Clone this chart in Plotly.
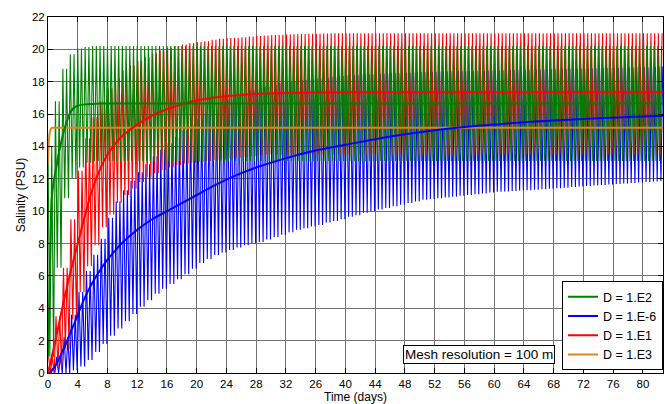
import plotly.graph_objects as go

# ---------------- data ----------------
# Per-day tidal envelope values (day 0 .. 83): peak and trough salinity of the tidal cycles of that day
GREEN_UPPER = [14.0, 16.8, 18.8, 19.7, 20.05, 20.15, 20.2, 20.2, 20.2, 20.2,
               20.2, 20.2, 20.2, 20.2, 20.2, 20.2, 20.2, 20.2, 20.2, 20.2,
               20.2, 20.2, 20.2, 20.2, 20.2, 20.2, 20.2, 20.2, 20.2, 20.2,
               20.2, 20.2, 20.2, 20.2, 20.2, 20.2, 20.2, 20.2, 20.2, 20.2,
               20.2, 20.2, 20.2, 20.2, 20.2, 20.2, 20.2, 20.2, 20.2, 20.2,
               20.2, 20.2, 20.2, 20.2, 20.2, 20.2, 20.2, 20.2, 20.2, 20.2,
               20.2, 20.2, 20.2, 20.2, 20.2, 20.2, 20.2, 20.2, 20.2, 20.2,
               20.2, 20.2, 20.2, 20.2, 20.2, 20.2, 20.2, 20.2, 20.2, 20.2,
               20.2, 20.2, 20.2, 20.2]
GREEN_LOWER = [1.0, 6.5, 10.8, 12.0, 12.7, 13.0, 13.1, 13.1, 13.1, 13.1,
               13.1, 13.1, 13.1, 13.1, 13.1, 13.1, 13.1, 13.1, 13.1, 13.1,
               13.1, 13.1, 13.1, 13.1, 13.1, 13.1, 13.1, 13.1, 13.1, 13.1,
               13.1, 13.1, 13.1, 13.1, 13.1, 13.1, 13.1, 13.1, 13.1, 13.1,
               13.1, 13.1, 13.1, 13.1, 13.1, 13.1, 13.1, 13.1, 13.1, 13.1,
               13.1, 13.1, 13.1, 13.1, 13.1, 13.1, 13.1, 13.1, 13.1, 13.1,
               13.1, 13.1, 13.1, 13.1, 13.1, 13.1, 13.1, 13.1, 13.1, 13.1,
               13.1, 13.1, 13.1, 13.1, 13.1, 13.1, 13.1, 13.1, 13.1, 13.1,
               13.1, 13.1, 13.1, 13.1]
RED_UPPER = [1.0, 3.5, 6.5, 9.5, 12.5, 14.5, 15.8, 16.8, 17.6, 18.2,
             18.7, 19.0, 19.3, 19.55, 19.75, 19.95, 20.1, 20.2, 20.3, 20.4,
             20.45, 20.5, 20.6, 20.65, 20.7, 20.72, 20.75, 20.8, 20.82, 20.85,
             20.88, 20.9, 20.92, 20.94, 20.95, 20.96, 20.97, 20.98, 20.99, 21.0,
             21.0, 21.0, 21.0, 21.0, 21.0, 21.0, 21.0, 21.0, 21.0, 21.0,
             21.0, 21.0, 21.0, 21.0, 21.0, 21.0, 21.0, 21.0, 21.0, 21.0,
             21.0, 21.0, 21.0, 21.0, 21.0, 21.0, 21.0, 21.0, 21.0, 21.0,
             21.0, 21.0, 21.0, 21.0, 21.0, 21.0, 21.0, 21.0, 21.0, 21.0,
             21.0, 21.0, 21.0, 21.0]
RED_LOWER = [0.0, 0.3, 1.5, 3.3, 5.0, 6.6, 7.9, 9.0, 9.8, 10.5,
             11.0, 11.4, 11.8, 12.1, 12.35, 12.55, 12.7, 12.85, 12.95, 13.0,
             13.05, 13.1, 13.15, 13.2, 13.25, 13.3, 13.35, 13.4, 13.45, 13.5,
             13.5, 13.5, 13.5, 13.5, 13.5, 13.5, 13.5, 13.5, 13.5, 13.5,
             13.5, 13.5, 13.5, 13.5, 13.5, 13.5, 13.5, 13.5, 13.5, 13.5,
             13.5, 13.5, 13.5, 13.5, 13.5, 13.5, 13.5, 13.5, 13.5, 13.5,
             13.5, 13.5, 13.5, 13.5, 13.5, 13.5, 13.5, 13.5, 13.5, 13.5,
             13.5, 13.5, 13.5, 13.5, 13.5, 13.5, 13.5, 13.5, 13.5, 13.5,
             13.5, 13.5, 13.5, 13.5]
BLUE_UPPER = [0.3, 1.0, 2.2, 3.6, 5.0, 6.3, 7.3, 8.3, 9.6, 10.6,
              11.3, 11.9, 12.4, 12.9, 13.4, 13.8, 14.2, 14.6, 15.0, 15.35,
              15.7, 16.0, 16.3, 16.6, 16.9, 17.1, 17.3, 17.45, 17.6, 17.7,
              17.8, 17.9, 18.0, 18.05, 18.1, 18.15, 18.2, 18.25, 18.3, 18.35,
              18.4, 18.42, 18.44, 18.46, 18.48, 18.5, 18.52, 18.54, 18.56, 18.58,
              18.6, 18.61, 18.62, 18.63, 18.64, 18.65, 18.66, 18.67, 18.68, 18.69,
              18.7, 18.71, 18.72, 18.73, 18.74, 18.75, 18.76, 18.77, 18.78, 18.79,
              18.8, 18.81, 18.82, 18.83, 18.84, 18.85, 18.86, 18.87, 18.88, 18.89,
              18.9, 18.92, 18.94, 18.96]
BLUE_LOWER = [0.0, 0.0, 0.0, 0.15, 0.4, 0.8, 1.3, 1.8, 2.3, 2.75,
              3.2, 3.65, 4.1, 4.5, 4.9, 5.2, 5.5, 5.8, 6.1, 6.45,
              6.8, 7.05, 7.3, 7.45, 7.6, 7.75, 7.9, 8.0, 8.1, 8.25,
              8.4, 8.55, 8.7, 8.85, 8.95, 9.05, 9.15, 9.3, 9.4, 9.5,
              9.65, 9.75, 9.9, 10.0, 10.1, 10.2, 10.3, 10.4, 10.5, 10.6,
              10.7, 10.75, 10.8, 10.85, 10.9, 10.95, 11.0, 11.05, 11.1, 11.15,
              11.2, 11.22, 11.25, 11.28, 11.3, 11.33, 11.36, 11.39, 11.42, 11.45,
              11.5, 11.53, 11.56, 11.59, 11.62, 11.65, 11.68, 11.71, 11.74, 11.77,
              11.8, 11.83, 11.86, 11.9]

# Tidally averaged (smooth) curves
MEAN_DAYS = [0, 0.25, 0.5, 0.75, 1, 1.5, 2, 2.5, 3, 3.5, 4, 5, 6, 7, 8, 9, 10, 12, 14, 16,
             18, 20, 22, 24, 26, 28, 30, 33, 36, 40, 44, 48, 52, 56, 60, 64, 68, 72, 76, 80, 83]
GREEN_MEAN = [1.0, 6.5, 10.7, 11.8, 12.4, 13.7, 14.7, 15.5, 16.1, 16.4, 16.52, 16.6, 16.63, 16.65,
              16.65, 16.65, 16.65, 16.65, 16.65, 16.65, 16.65, 16.65, 16.65, 16.65, 16.65, 16.65,
              16.65, 16.65, 16.65, 16.65, 16.65, 16.65, 16.65, 16.65, 16.65, 16.65, 16.65, 16.65,
              16.65, 16.65, 16.65]
BLUE_MEAN = [0.0, 0.05, 0.15, 0.3, 0.45, 0.9, 1.4, 1.9, 2.5, 3.0, 3.6, 4.7, 5.6, 6.35, 7.0, 7.55,
             8.05, 8.85, 9.5, 10.0, 10.5, 11.0, 11.5, 11.95, 12.35, 12.7, 13.0, 13.4, 13.75, 14.1,
             14.45, 14.75, 15.0, 15.2, 15.35, 15.5, 15.6, 15.7, 15.78, 15.85, 15.9]
RED_MEAN = [0.0, 0.5, 1.0, 1.5, 2.0, 3.1, 4.2, 5.2, 6.2, 7.1, 8.0, 9.8, 11.4, 12.6, 13.5, 14.15,
            14.65, 15.35, 15.9, 16.3, 16.6, 16.85, 17.0, 17.1, 17.18, 17.25, 17.28, 17.31, 17.33,
            17.35, 17.35, 17.35, 17.35, 17.35, 17.35, 17.35, 17.35, 17.35, 17.35, 17.35, 17.35]
ORANGE_MEAN = [13.0, 14.9, 15.15, 15.15, 15.15, 15.15, 15.15, 15.15, 15.15, 15.15, 15.15, 15.15,
               15.15, 15.15, 15.15, 15.15, 15.15, 15.15, 15.15, 15.15, 15.15, 15.15, 15.15, 15.15,
               15.15, 15.15, 15.15, 15.15, 15.15, 15.15, 15.15, 15.15, 15.15, 15.15, 15.15, 15.15,
               15.15, 15.15, 15.15, 15.15, 15.15]

LEGEND_NAMES = ["D = 1.E2", "D = 1.E-6", "D = 1.E1", "D = 1.E3"]
X_TICKS = [0, 4, 8, 12, 16, 20, 24, 28, 32, 36, 40, 44, 48, 52, 56, 60, 64, 68, 72, 76, 80]
X_TICK_TEXT = ["0", "4", "8", "12", "16", "20", "24", "28", "32", "26", "40", "44", "48",
               "52", "56", "60", "64", "68", "72", "76", "80"]

# ---------------- styling ----------------
GREEN = "#008000"
BLUE = "#0000ff"
RED = "#ff0000"
ORANGE = "#d9861c"
T_END = 82.7


def tidal_trace(upper, lower, phase):
    """Zig-zag through the per-day peak/trough values (2 tidal cycles per day)."""
    xs, ys = [], []
    for d in range(len(upper)):
        for k in range(2):
            tp = d + 0.5 * k + phase
            tt = tp + 0.25
            if tp <= T_END:
                xs.append(tp)
                ys.append(upper[d])
            if tt <= T_END:
                xs.append(tt)
                ys.append(lower[d])
    return xs, ys


fig = go.Figure()

for up, lo, col, ph in [(BLUE_UPPER, BLUE_LOWER, BLUE, 0.17),
                        (RED_UPPER, RED_LOWER, RED, 0.08),
                        (GREEN_UPPER, GREEN_LOWER, GREEN, 0.0)]:
    xs, ys = tidal_trace(up, lo, ph)
    fig.add_trace(go.Scatter(x=xs, y=ys, mode="lines", line=dict(color=col, width=1.1),
                             showlegend=False, hoverinfo="skip"))

for name, vals, col in [(LEGEND_NAMES[3], ORANGE_MEAN, ORANGE),
                        (LEGEND_NAMES[1], BLUE_MEAN, BLUE),
                        (LEGEND_NAMES[2], RED_MEAN, RED),
                        (LEGEND_NAMES[0], GREEN_MEAN, GREEN)]:
    rank = LEGEND_NAMES.index(name)
    fig.add_trace(go.Scatter(x=MEAN_DAYS, y=vals, mode="lines", name=name,
                             line=dict(color=col, width=2, shape="spline", smoothing=0.8),
                             legendrank=rank + 1))

font_family = "Liberation Sans, Arial, sans-serif"
grid_col = "rgb(115,115,115)"

fig.update_layout(
    width=665, height=404,
    margin=dict(l=48, r=2, t=17, b=31),
    paper_bgcolor="white", plot_bgcolor="white",
    font=dict(family=font_family, size=11, color="black"),
    showlegend=True,
    legend=dict(x=1, y=0.008, xanchor="right", yanchor="bottom",
                bgcolor="white", bordercolor="black", borderwidth=1,
                font=dict(size=12.5), itemwidth=30, tracegroupgap=0,
                traceorder="normal"),
    xaxis=dict(range=[0, T_END], tickmode="array", tickvals=X_TICKS, ticktext=X_TICK_TEXT,
               ticks="inside", ticklen=5, tickcolor="black", showline=True, linecolor="black",
               linewidth=1, mirror="ticks", showgrid=True, gridcolor=grid_col, gridwidth=1,
               zeroline=False, title=dict(text="Time (days)", standoff=2,
                                          font=dict(size=12)),
               tickfont=dict(size=11.5)),
    yaxis=dict(range=[0, 22], tickmode="linear", tick0=0, dtick=2,
               ticks="inside", ticklen=5, tickcolor="black", showline=True, linecolor="black",
               linewidth=1, mirror="ticks", showgrid=True, gridcolor=grid_col, gridwidth=1,
               zeroline=False, title=dict(text="Salinity (PSU)", standoff=3,
                                          font=dict(size=12)),
               tickfont=dict(size=11.5)),
    annotations=[dict(x=58.0, y=1.17, xref="x", yref="y", text="Mesh resolution = 100 m",
                      showarrow=False, font=dict(size=13.5, color="black"),
                      bgcolor="white", bordercolor="black", borderwidth=1, borderpad=1)],
)

fig.write_html("out.html")
